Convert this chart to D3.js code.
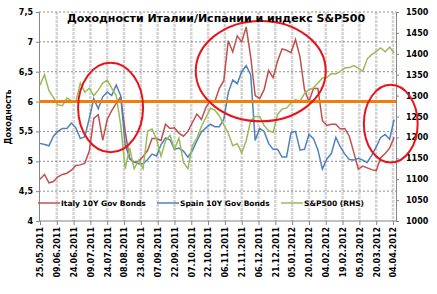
<!DOCTYPE html>
<html>
<head>
<meta charset="utf-8">
<script src="https://cdn.jsdelivr.net/npm/d3@7"></script>
<style>
  body { margin: 0; background: #fff; }
  svg { display: block; font-family: "DejaVu Sans", sans-serif; font-weight: bold; }
</style>
</head>
<body>
<div id="chart"></div>
<script>
// dates (every 4 days)
const dates = [
    "25.05.2011", "29.05.2011", "02.06.2011", "06.06.2011", "10.06.2011", "14.06.2011", "18.06.2011", "22.06.2011",
    "26.06.2011", "30.06.2011", "04.07.2011", "08.07.2011", "12.07.2011", "16.07.2011", "20.07.2011", "24.07.2011",
    "28.07.2011", "01.08.2011", "05.08.2011", "09.08.2011", "13.08.2011", "17.08.2011", "21.08.2011", "25.08.2011",
    "29.08.2011", "02.09.2011", "06.09.2011", "10.09.2011", "14.09.2011", "18.09.2011", "22.09.2011", "26.09.2011",
    "30.09.2011", "04.10.2011", "08.10.2011", "12.10.2011", "16.10.2011", "20.10.2011", "24.10.2011", "28.10.2011",
    "01.11.2011", "05.11.2011", "09.11.2011", "13.11.2011", "17.11.2011", "21.11.2011", "25.11.2011", "29.11.2011",
    "03.12.2011", "07.12.2011", "11.12.2011", "15.12.2011", "19.12.2011", "23.12.2011", "27.12.2011", "31.12.2011",
    "04.01.2012", "08.01.2012", "12.01.2012", "16.01.2012", "20.01.2012", "24.01.2012", "28.01.2012", "01.02.2012",
    "05.02.2012", "09.02.2012", "13.02.2012", "17.02.2012", "21.02.2012", "25.02.2012", "29.02.2012", "04.03.2012",
    "08.03.2012", "12.03.2012", "16.03.2012", "20.03.2012", "24.03.2012", "28.03.2012", "01.04.2012", "05.04.2012"
];

const italy = [
    4.70, 4.78, 4.64, 4.66, 4.74, 4.78, 4.80, 4.85, 4.93, 4.94, 4.97, 5.17, 5.72, 5.78, 5.35, 5.70,
    5.85, 5.97, 6.08, 5.50, 5.04, 4.98, 5.00, 5.08, 5.18, 5.38, 5.38, 5.35, 5.62, 5.55, 5.56, 5.47,
    5.42, 5.50, 5.65, 5.79, 5.70, 5.90, 6.02, 6.00, 6.22, 6.35, 7.02, 6.83, 7.10, 7.00, 7.25, 6.75,
    6.10, 6.05, 6.20, 6.52, 6.40, 6.68, 6.88, 6.86, 6.82, 7.04, 6.75, 6.20, 6.00, 6.22, 6.22, 5.68,
    5.60, 5.62, 5.62, 5.54, 5.55, 5.42, 5.15, 4.87, 4.92, 4.89, 4.86, 4.84, 5.06, 5.13, 5.22, 5.40
];

const spain = [
    5.30, 5.28, 5.26, 5.42, 5.50, 5.55, 5.55, 5.64, 5.56, 5.38, 5.41, 5.72, 6.05, 5.88, 6.08, 6.16,
    6.10, 6.28, 6.10, 5.28, 5.05, 4.99, 4.96, 4.96, 5.03, 5.12, 5.09, 5.28, 5.39, 5.36, 5.20, 5.22,
    5.17, 5.07, 5.18, 5.34, 5.49, 5.56, 5.62, 5.58, 5.58, 5.70, 6.15, 6.36, 6.30, 6.50, 6.60, 6.45,
    5.35, 5.55, 5.50, 5.30, 5.20, 5.20, 5.07, 5.07, 5.48, 5.50, 5.19, 5.20, 5.45, 5.38, 5.19, 4.87,
    5.04, 5.13, 5.40, 5.24, 5.12, 5.03, 5.02, 5.05, 5.02, 4.98, 5.10, 5.24, 5.40, 5.45, 5.37, 5.70
];

const sp500 = [
    1325, 1350, 1312, 1295, 1278, 1276, 1294, 1288, 1285, 1330, 1308, 1318, 1300, 1313, 1330, 1337,
    1318, 1300, 1230, 1125, 1175, 1125, 1145, 1125, 1215, 1220, 1195, 1155, 1192, 1205, 1172, 1198,
    1140, 1125, 1180, 1198, 1226, 1247, 1270, 1265, 1252, 1230, 1210, 1180, 1185, 1163, 1192, 1240,
    1250, 1250, 1228, 1216, 1212, 1255, 1268, 1270, 1282, 1290, 1287, 1305, 1314, 1318, 1330, 1342,
    1343, 1353, 1352, 1358, 1366, 1367, 1372, 1366, 1358, 1388, 1398, 1406, 1414, 1405, 1416, 1402
];

const tickDates = [
    "25.05.2011", "09.06.2011", "24.06.2011", "09.07.2011", "24.07.2011", "08.08.2011", "23.08.2011",
    "07.09.2011", "22.09.2011", "07.10.2011", "22.10.2011", "06.11.2011", "21.11.2011", "06.12.2011",
    "21.12.2011", "05.01.2012", "20.01.2012", "04.02.2012", "19.02.2012", "05.03.2012", "20.03.2012", "04.04.2012"
];
const leftTicks = [4, 4.5, 5, 5.5, 6, 6.5, 7, 7.5];
const rightTicks = [1000, 1050, 1100, 1150, 1200, 1250, 1300, 1350, 1400, 1450, 1500];

const threshold = 6;

// hand drawn ellipses: centre date / value, radius in days / yield
const ellipseCentres = ["27.07.2011", "08.12.2011", "02.04.2012"];
const ellipseValues = [5.9, 6.51, 5.63];
const ellipseDays = [29, 58, 24];
const ellipseYield = [0.75, 0.84, 0.65];

const titleText = "Доходности Италии/Испании и индекс S&P500";
const seriesNames = ["Italy 10Y Gov Bonds", "Spain 10Y Gov Bonds", "S&P500 (RHS)"];
const seriesColors = ["#c0504d", "#4f81bd", "#9bbb59"];

const W = 437, H = 294;
const plotL = 39, plotR = 396, plotT = 12, plotB = 221;

const parse = d3.timeParse("%d.%m.%Y");
const fmt = d3.timeFormat("%d.%m.%Y");

const svg = d3.select("#chart").append("svg")
    .attr("width", W)
    .attr("height", H);

const x = d3.scaleTime()
    .domain([parse("25.05.2011"), parse("04.04.2012")])
    .range([40, 393]);
const yL = d3.scaleLinear().domain([4, 7.5]).range([plotB, plotT]);
const yR = d3.scaleLinear().domain([1000, 1500]).range([plotB, plotT]);

// grid
svg.append("g")
    .selectAll("line")
    .data(tickDates.slice(1))
    .join("line")
    .attr("x1", d => x(parse(d))).attr("x2", d => x(parse(d)))
    .attr("y1", plotT).attr("y2", plotB)
    .attr("stroke", "#d4d4d4")
    .attr("stroke-width", 2.5)
    .attr("stroke-dasharray", "3,1");

svg.append("g")
    .selectAll("line")
    .data(leftTicks.slice(1))
    .join("line")
    .attr("x1", plotL).attr("x2", plotR)
    .attr("y1", d => yL(d)).attr("y2", d => yL(d))
    .attr("stroke", "#8a8a8a")
    .attr("stroke-width", 1)
    .attr("stroke-dasharray", "2,2");

// axes
const axL = svg.append("g")
    .attr("transform", `translate(${plotL},0)`)
    .call(d3.axisLeft(yL).tickValues(leftTicks).tickSize(3).tickPadding(3)
        .tickFormat(d => String(d).replace(".", ",")));

const axR = svg.append("g")
    .attr("transform", `translate(${plotR},0)`)
    .call(d3.axisRight(yR).tickValues(rightTicks).tickSize(3).tickPadding(7)
        .tickFormat(d3.format("d")));

const axB = svg.append("g")
    .attr("transform", `translate(0,${plotB})`)
    .call(d3.axisBottom(x).tickValues(tickDates.map(parse)).tickSize(4).tickFormat(fmt));

axB.select(".domain").attr("d", `M${plotL},0H${plotR}`);

axB.selectAll("text")
    .attr("transform", "rotate(-90)")
    .attr("text-anchor", "end")
    .attr("x", -6)
    .attr("y", 0)
    .attr("dy", "0.35em");

[axL, axR, axB].forEach(a => {
    a.selectAll(".domain, .tick line").attr("stroke", "#868686");
    a.selectAll("text")
        .attr("fill", "#000")
        .style("font-size", "8px")
        .style("font-weight", "bold")
        .style("font-family", "'DejaVu Sans', sans-serif");
});

// series
const rows = dates.map((d, i) => ({ date: parse(d), italy: italy[i], spain: spain[i], sp: sp500[i] }));

const lineL = key => d3.line().x(d => x(d.date)).y(d => yL(d[key]));
const lineR = d3.line().x(d => x(d.date)).y(d => yR(d.sp));

svg.append("path").datum(rows)
    .attr("d", lineL("italy"))
    .attr("fill", "none").attr("stroke", seriesColors[0]).attr("stroke-width", 1.5);

svg.append("path").datum(rows)
    .attr("d", lineL("spain"))
    .attr("fill", "none").attr("stroke", seriesColors[1]).attr("stroke-width", 1.5);

svg.append("path").datum(rows)
    .attr("d", lineR)
    .attr("fill", "none").attr("stroke", seriesColors[2]).attr("stroke-width", 1.5);

// orange level
svg.append("line")
    .attr("x1", plotL).attr("x2", plotR)
    .attr("y1", yL(threshold)).attr("y2", yL(threshold))
    .attr("stroke", "#f07f09")
    .attr("stroke-width", 3);

// legend
const legendX = [38, 157, 281];
const legend = svg.append("g")
    .selectAll("g")
    .data(seriesNames)
    .join("g")
    .attr("transform", (d, i) => `translate(${legendX[i]},203)`);

legend.append("line")
    .attr("x1", 0).attr("x2", 22)
    .attr("stroke", (d, i) => seriesColors[i])
    .attr("stroke-width", 1.5);

legend.append("text")
    .attr("x", 23)
    .attr("dy", "0.35em")
    .style("font-size", "7.5px")
    .text(d => d);

// ellipses
svg.append("g")
    .selectAll("ellipse")
    .data(ellipseCentres)
    .join("ellipse")
    .attr("cx", d => x(parse(d)))
    .attr("cy", (d, i) => yL(ellipseValues[i]))
    .attr("rx", (d, i) => x(d3.timeDay.offset(parse(d), ellipseDays[i])) - x(parse(d)))
    .attr("ry", (d, i) => yL(ellipseValues[i] - ellipseYield[i]) - yL(ellipseValues[i]))
    .attr("fill", "none")
    .attr("stroke", "#e8141b")
    .attr("stroke-width", 2);

// titles
svg.append("text")
    .attr("x", 216)
    .attr("y", 22)
    .attr("text-anchor", "middle")
    .style("font-size", "11px")
    .text(titleText);

svg.append("text")
    .attr("transform", "translate(11,117) rotate(-90)")
    .attr("text-anchor", "middle")
    .style("font-size", "8px")
    .text("Доходность");
</script>
</body>
</html>
